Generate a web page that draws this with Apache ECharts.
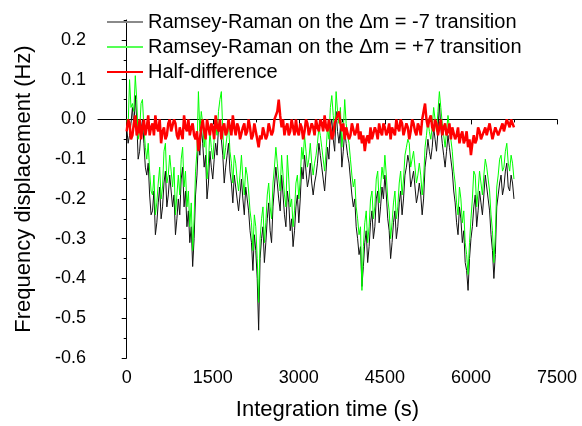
<!DOCTYPE html>
<html>
<head>
<meta charset="utf-8">
<script src="https://cdn.jsdelivr.net/npm/echarts@6/dist/echarts.min.js"></script>
<style>html,body{margin:0;padding:0;background:#fff}#c{width:582px;height:426px}</style>
</head>
<body>
<div id="c"></div>
<script>
const timeStep = 25; // seconds between samples
const seriesNames = ['Ramsey-Raman on the \u0394m = -7 transition', 'Ramsey-Raman on the \u0394m = +7 transition', 'Half-difference'];
const xMajorTicks = [0, 1500, 3000, 4500, 6000, 7500];
const xMinorTicks = [750, 2250, 3750, 5250, 6750];
const yMajorTicks = [-0.6, -0.5, -0.4, -0.3, -0.2, -0.1, 0.0, 0.1, 0.2];
const yMinorTicks = [-0.55, -0.45, -0.35, -0.25, -0.15, -0.05, 0.05, 0.15, 0.25];

const minus7 = [
 -0.02,-0.06,-0.04,-0.01,0.03,-0.02,0.06,0.00,-0.10,-0.08,-0.03,0.00,-0.06,-0.12,-0.14,-0.11,-0.19,-0.24,-0.23,-0.18,
 -0.29,-0.26,-0.21,-0.17,-0.25,-0.22,-0.16,-0.13,-0.22,-0.19,-0.14,-0.18,-0.22,-0.19,-0.29,-0.25,-0.20,-0.24,-0.15,-0.12,
 -0.22,-0.18,-0.27,-0.23,-0.31,-0.27,-0.37,-0.30,-0.19,-0.14,-0.05,-0.09,-0.02,-0.06,-0.12,-0.09,-0.20,-0.16,-0.08,-0.12,
 -0.15,-0.10,-0.06,-0.09,-0.02,0.00,-0.05,-0.09,-0.16,-0.12,-0.09,-0.06,-0.13,-0.16,-0.21,-0.14,-0.17,-0.20,-0.23,-0.19,
 -0.15,-0.20,-0.24,-0.17,-0.20,-0.23,-0.28,-0.31,-0.38,-0.29,-0.33,-0.40,-0.53,-0.35,-0.30,-0.27,-0.36,-0.31,-0.25,-0.21,
 -0.28,-0.31,-0.22,-0.17,-0.12,-0.16,-0.20,-0.23,-0.14,-0.19,-0.24,-0.27,-0.18,-0.21,-0.28,-0.25,-0.32,-0.28,-0.22,-0.19,
 -0.26,-0.20,-0.12,-0.15,-0.09,-0.13,-0.17,-0.15,-0.11,-0.16,-0.19,-0.16,-0.14,-0.11,-0.06,-0.09,-0.12,-0.15,-0.18,-0.13,
 -0.07,-0.10,-0.02,0.00,-0.05,-0.08,0.02,-0.03,-0.06,-0.02,-0.12,-0.08,-0.03,-0.06,-0.09,-0.11,-0.15,-0.19,-0.22,-0.20,
 -0.27,-0.30,-0.34,-0.32,-0.42,-0.37,-0.31,-0.28,-0.36,-0.32,-0.26,-0.23,-0.30,-0.27,-0.20,-0.18,-0.26,-0.22,-0.17,-0.20,
 -0.14,-0.19,-0.25,-0.28,-0.35,-0.31,-0.26,-0.23,-0.30,-0.27,-0.21,-0.18,-0.24,-0.20,-0.14,-0.12,-0.09,-0.11,-0.17,-0.15,
 -0.13,-0.17,-0.21,-0.19,-0.16,-0.19,-0.24,-0.20,-0.12,-0.09,-0.05,-0.08,-0.10,-0.07,-0.02,-0.05,-0.08,-0.03,0.04,-0.02,
 -0.06,-0.09,-0.12,-0.08,-0.04,-0.07,-0.10,-0.13,-0.18,-0.21,-0.26,-0.29,-0.22,-0.25,-0.31,-0.28,-0.36,-0.38,-0.43,-0.35,
 -0.30,-0.27,-0.22,-0.19,-0.27,-0.23,-0.18,-0.21,-0.24,-0.19,-0.14,-0.17,-0.20,-0.23,-0.29,-0.33,-0.40,-0.34,-0.22,-0.19,
 -0.16,-0.14,-0.19,-0.17,-0.13,-0.11,-0.17,-0.18,-0.14,-0.16,-0.20
];
const plus7 = [
 0.00,-0.02,0.10,0.03,0.04,0.02,0.11,0.05,-0.05,-0.03,0.04,0.05,-0.02,-0.07,-0.10,-0.06,-0.13,-0.18,-0.19,-0.14,
 -0.24,-0.21,-0.16,-0.12,-0.20,-0.17,-0.08,-0.06,-0.16,-0.14,-0.09,-0.13,-0.17,-0.12,-0.24,-0.19,-0.14,-0.19,-0.10,-0.07,
 -0.17,-0.13,-0.22,-0.18,-0.27,-0.21,-0.33,-0.25,-0.13,-0.08,0.07,-0.03,0.02,-0.01,-0.07,-0.03,-0.15,-0.11,-0.03,-0.07,
 -0.10,-0.05,-0.01,-0.04,0.02,0.05,0.07,-0.03,-0.10,-0.07,-0.04,-0.01,-0.08,-0.11,-0.16,-0.09,-0.11,-0.15,-0.18,-0.14,
 -0.09,-0.15,-0.19,-0.12,-0.14,-0.18,-0.23,-0.26,-0.33,-0.24,-0.27,-0.35,-0.46,-0.30,-0.25,-0.22,-0.31,-0.26,-0.19,-0.16,
 -0.22,-0.25,-0.16,-0.12,-0.07,-0.11,-0.15,-0.18,-0.09,-0.14,-0.19,-0.22,-0.09,-0.15,-0.22,-0.20,-0.27,-0.23,-0.16,-0.14,
 -0.20,-0.15,-0.07,-0.10,-0.04,-0.08,-0.12,-0.10,-0.06,-0.11,-0.14,-0.11,-0.09,-0.06,-0.02,-0.04,-0.07,-0.10,-0.13,-0.08,
 -0.02,-0.05,0.03,0.06,0.01,-0.03,0.07,0.02,-0.01,0.03,-0.07,-0.03,0.05,-0.01,-0.04,-0.06,-0.10,-0.14,-0.17,-0.15,
 -0.22,-0.25,-0.29,-0.27,-0.43,-0.32,-0.26,-0.23,-0.31,-0.27,-0.20,-0.18,-0.25,-0.22,-0.15,-0.13,-0.21,-0.17,-0.12,-0.15,
 -0.09,-0.14,-0.20,-0.23,-0.30,-0.26,-0.21,-0.18,-0.25,-0.22,-0.16,-0.13,-0.19,-0.15,-0.09,-0.07,-0.05,-0.06,-0.12,-0.10,
 -0.08,-0.12,-0.16,-0.14,-0.11,-0.14,-0.19,-0.15,-0.07,-0.04,0.00,-0.03,-0.05,-0.02,0.03,0.00,-0.03,0.02,0.07,0.03,
 -0.01,-0.04,-0.07,-0.03,0.01,-0.02,-0.05,-0.08,-0.13,-0.16,-0.21,-0.24,-0.17,-0.20,-0.26,-0.23,-0.31,-0.34,-0.39,-0.31,
 -0.25,-0.20,-0.13,-0.14,-0.22,-0.18,-0.13,-0.16,-0.19,-0.14,-0.10,-0.12,-0.15,-0.18,-0.24,-0.28,-0.36,-0.29,-0.17,-0.14,
 -0.10,-0.09,-0.13,-0.12,-0.08,-0.06,-0.11,-0.13,-0.09,-0.11,-0.15
];
const halfDiff = [
 -0.03,0.00,-0.01,-0.05,-0.04,-0.01,0.01,-0.04,-0.03,0.00,-0.05,-0.02,0.00,-0.04,-0.02,0.01,-0.04,-0.02,-0.01,-0.04,
 0.01,-0.02,-0.03,0.00,-0.06,-0.03,-0.02,-0.05,-0.04,-0.01,0.00,-0.03,-0.03,0.00,-0.01,-0.04,-0.05,-0.02,-0.02,-0.05,
 0.01,-0.02,-0.03,0.00,-0.04,-0.02,-0.01,-0.04,-0.05,-0.03,-0.08,-0.05,-0.02,0.00,-0.03,-0.05,0.00,-0.02,-0.04,-0.01,
 -0.02,-0.05,0.01,-0.02,-0.03,0.00,-0.05,-0.02,-0.01,-0.04,-0.03,0.00,-0.02,-0.04,0.01,-0.02,-0.04,-0.01,-0.02,-0.05,
 -0.05,-0.02,-0.01,-0.04,-0.03,0.00,-0.02,-0.05,-0.04,-0.01,-0.03,-0.05,-0.07,-0.04,-0.05,-0.02,-0.02,-0.05,-0.04,-0.01,
 -0.01,-0.04,-0.03,0.00,0.00,0.02,0.05,0.01,-0.02,0.00,-0.04,-0.02,-0.01,-0.04,-0.03,0.00,-0.02,-0.04,0.00,-0.03,
 -0.04,-0.01,-0.02,-0.05,-0.03,0.00,-0.01,-0.04,-0.04,-0.01,-0.02,-0.04,0.00,-0.02,-0.03,0.00,-0.01,-0.03,0.01,-0.02,
 -0.03,0.00,-0.02,-0.05,-0.04,-0.01,-0.01,0.01,0.02,-0.01,-0.03,-0.01,-0.05,-0.02,-0.02,-0.05,-0.04,-0.01,-0.01,-0.04,
 -0.03,-0.01,-0.05,-0.03,-0.06,-0.04,-0.08,-0.05,-0.04,-0.06,-0.02,-0.05,-0.05,-0.02,-0.03,-0.05,-0.01,-0.03,-0.04,-0.01,
 -0.02,-0.04,-0.03,-0.01,-0.05,-0.02,-0.02,-0.04,0.00,-0.02,-0.03,0.00,-0.01,-0.04,-0.04,-0.01,-0.02,-0.05,-0.03,0.00,
 -0.01,-0.03,-0.04,-0.01,-0.02,-0.04,0.00,0.02,0.04,0.00,-0.02,0.00,0.01,-0.02,-0.03,0.00,-0.01,-0.04,-0.02,0.00,
 -0.04,-0.02,-0.01,-0.04,-0.03,-0.01,-0.05,-0.02,-0.02,-0.05,-0.04,-0.02,-0.06,-0.04,-0.03,-0.06,-0.05,-0.03,-0.07,-0.05,
 -0.09,-0.06,-0.04,-0.06,-0.05,-0.02,-0.03,-0.05,-0.05,-0.03,-0.02,-0.04,-0.04,-0.01,-0.03,-0.05,-0.05,-0.02,-0.02,-0.04,
 -0.04,-0.02,-0.01,-0.03,-0.03,0.00,-0.01,-0.02,0.00,-0.01,-0.02
];

const toPairs = arr => arr.map((v, i) => [i * timeStep, v]);
const FONT = '"Liberation Sans", Arial, sans-serif';

const chart = echarts.init(document.getElementById('c'), null, {renderer: 'canvas'});
chart.setOption({
  animation: false,
  backgroundColor: '#fff',
  textStyle: {fontFamily: FONT},
  grid: {left: 98, right: 25, top: 20, bottom: 68, containLabel: false},
  legend: {
    orient: 'vertical', left: 107, top: 12, padding: 0, itemWidth: 36, itemHeight: 2, itemGap: 5,
    icon: 'rect',
    textStyle: {fontSize: 20, color: '#000', fontFamily: FONT},
    data: [
      {name: seriesNames[0], itemStyle: {color: '#8a8a8a'}},
      {name: seriesNames[1], itemStyle: {color: '#55ff55'}},
      {name: seriesNames[2], itemStyle: {color: '#ff0000'}}
    ]
  },
  xAxis: [{
    type: 'value', min: -500, max: 7500,
    name: 'Integration time (s)', nameLocation: 'middle', nameGap: 41,
    nameTextStyle: {fontSize: 22, color: '#000', fontFamily: FONT},
    axisLine: {lineStyle: {color: '#000', width: 1}},
    axisTick: {customValues: xMajorTicks, length: 5, lineStyle: {color: '#000'}},
    axisLabel: {customValues: xMajorTicks, fontSize: 18, color: '#000', margin: 11, fontFamily: FONT,
      formatter: v => String(v)},
    splitLine: {show: false}
  }, {
    type: 'value', min: -500, max: 7500, position: 'bottom',
    axisLine: {show: false},
    axisTick: {customValues: xMinorTicks, length: 3, lineStyle: {color: '#000'}},
    axisLabel: {show: false},
    splitLine: {show: false}
  }],
  yAxis: [{
    type: 'value', min: -0.6, max: 0.25,
    name: 'Frequency displacement (Hz)', nameLocation: 'middle', nameGap: 63,
    nameTextStyle: {fontSize: 22, color: '#000', fontFamily: FONT},
    axisLine: {show: true, lineStyle: {color: '#000', width: 1}},
    axisTick: {show: true, customValues: yMajorTicks, length: 5, lineStyle: {color: '#000'}},
    axisLabel: {customValues: yMajorTicks, fontSize: 18, color: '#000', margin: 12, fontFamily: FONT,
      formatter: v => v.toFixed(1)},
    splitLine: {show: false}
  }, {
    type: 'value', min: -0.6, max: 0.25, position: 'left',
    axisLine: {show: false},
    axisTick: {show: true, customValues: yMinorTicks, length: 3, lineStyle: {color: '#000'}},
    axisLabel: {show: false},
    splitLine: {show: false}
  }],
  series: [
    {name: seriesNames[0], type: 'line', data: toPairs(minus7), symbol: 'none',
     lineStyle: {color: '#111', width: 1}, itemStyle: {color: '#111'}},
    {name: seriesNames[1], type: 'line', data: toPairs(plus7), symbol: 'none',
     lineStyle: {color: '#00ff00', width: 1}, itemStyle: {color: '#00ff00'}},
    {name: seriesNames[2], type: 'line', data: toPairs(halfDiff), symbol: 'none',
     lineStyle: {color: '#ff0000', width: 2.5}, itemStyle: {color: '#ff0000'}}
  ]
});
</script>
</body>
</html>
